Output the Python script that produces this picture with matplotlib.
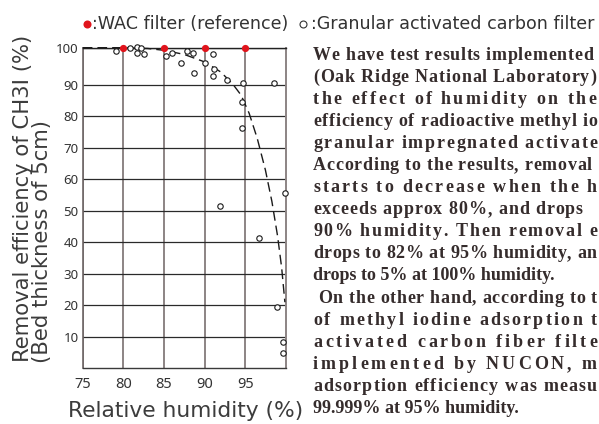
import numpy as np
import matplotlib
matplotlib.use("Agg")
import matplotlib.pyplot as plt
from matplotlib.lines import Line2D
from matplotlib.font_manager import FontProperties, findfont
from matplotlib.ft2font import FT2Font

# ---------------- data ----------------
wac_humidity = [80, 85, 90, 95]
wac_efficiency = [100, 100, 100, 100]

gac_humidity = [79.1, 80.8, 81.7, 82.2, 81.7, 82.5, 85.3, 86.0, 87.1, 87.8,
                88.6, 88.7, 90.0, 91.0, 91.2, 91.0, 92.8, 94.7, 98.5, 94.6,
                94.6, 91.9, 99.9, 96.7, 98.9, 99.7, 99.7]
gac_efficiency = [99.1, 99.8, 100.2, 100.0, 98.5, 98.3, 97.7, 98.7, 96.0, 99.0,
                  98.7, 93.2, 95.8, 98.3, 94.4, 92.5, 91.3, 90.6, 90.6, 84.7,
                  76.3, 51.7, 55.8, 41.5, 19.6, 8.4, 4.8]

trend_humidity = [75, 80, 83, 85, 87.5, 90, 92, 93.5, 94.5, 95.5, 96.5, 97.5,
                  98.3, 99, 99.5, 99.9]
trend_efficiency = [100, 100, 99.8, 99.3, 98.2, 96.2, 93.5, 90.2, 86.8, 81, 73,
                    63, 53, 42, 32, 21]

x_ticks = [75, 80, 85, 90, 95]
y_ticks = [10, 20, 30, 40, 50, 60, 70, 80, 90, 100]

legend_wac = ":WAC filter (reference)"
legend_gac = ":Granular activated carbon filter"
ylabel_1 = "Removal efficiency of CH3I (%)"
ylabel_2 = "(Bed thickness of 5cm)"
xlabel = "Relative humidity (%)"

body_lines = [
    "We have test results implemented",
    "(Oak Ridge National Laboratory)",
    "the effect of humidity on the",
    "efficiency of radioactive methyl io",
    "granular impregnated activate",
    "According to the results, removal",
    "starts to decrease when the h",
    "exceeds approx 80%, and drops",
    "90% humidity. Then removal e",
    "drops to 82% at 95% humidity, an",
    "drops to 5% at 100% humidity.",
    " On the other hand, according to t",
    "of methyl iodine adsorption t",
    "activated carbon fiber filte",
    "implemented by NUCON, m",
    "adsorption efficiency was measu",
    "99.999% at 95% humidity.",
]
# right edge (px) of each justified line; None = natural width
body_line_ends = [593, 596, 596, 597, 597, 592, 597, 583, 597, 597, None,
                  597, 597, 597, 597, 597, None]

# ---------------- figure ----------------
W, H = 599, 424
fig = plt.figure(figsize=(W / 100, H / 100), dpi=100)

def fx(px):
    return px / W

def fy(py):
    return 1 - py / H

ax_l, ax_r, ax_t, ax_b = 82.7, 285.7, 47.7, 368.3
ax = fig.add_axes([fx(ax_l), fy(ax_b), (ax_r - ax_l) / W, (ax_b - ax_t) / H])

K = 1.185

def fwd(y):
    y = np.asarray(y, dtype=float)
    return np.where(y <= 90, y, 90 + (y - 90) * K)

def inv(v):
    v = np.asarray(v, dtype=float)
    return np.where(v <= 90, v, 90 + (v - 90) / K)

ax.set_yscale("function", functions=(fwd, inv))
ax.set_xlim(75, 100)
ax.set_ylim(0, 100)

ax.set_xticks(x_ticks)
ax.set_yticks(y_ticks)
ax.tick_params(axis="both", which="both", length=0)
ax.tick_params(axis="y", pad=3, labelsize=9.5, labelcolor="#333333")
ax.tick_params(axis="x", pad=6, labelsize=10.5, labelcolor="#333333")
for lab in ax.get_xticklabels() + ax.get_yticklabels():
    lab.set_family("Noto Sans")

ax.xaxis.grid(True, which="major", color="#8c8484", lw=1.4)
ax.yaxis.grid(True, which="major", color="#2a2a2a", lw=0.9)
ax.set_axisbelow(True)

for side, col, lw in [("left", "#6e6666", 1.2), ("bottom", "#3a3a3a", 1.0),
                      ("top", "#222222", 1.0), ("right", "#8c8484", 1.4)]:
    ax.spines[side].set_color(col)
    ax.spines[side].set_linewidth(lw)

ax.plot(trend_humidity, trend_efficiency, color="#1a1a1a", lw=1.0,
        dashes=(7, 3.6), zorder=3, clip_on=False)
ax.plot(gac_humidity, gac_efficiency, linestyle="none", marker="o", ms=3.9,
        mfc="white", mec="#1a1a1a", mew=0.8, zorder=4, clip_on=False)
ax.plot(wac_humidity, wac_efficiency, linestyle="none", marker="o", ms=5.2,
        mfc="#e0141c", mec="#e0141c", mew=0, zorder=5, clip_on=False)

# ---------------- labels ----------------
label_font = dict(family="DejaVu Sans", weight="normal", color="#3c3c3c")
fig.text(fx(29), fy(362), ylabel_1, rotation=90, rotation_mode="anchor",
         ha="left", va="baseline", fontsize=15.2, **label_font)
fig.text(fx(48), fy(363), ylabel_2, rotation=90, rotation_mode="anchor",
         ha="left", va="baseline", fontsize=15.2, **label_font)
fig.text(fx(185.5), fy(417), xlabel, ha="center", va="baseline",
         fontsize=15.7, **label_font)

# legend
legend_font = dict(family="DejaVu Sans", weight="normal", color="#333333")
fig.add_artist(Line2D([fx(87)], [fy(24)], transform=fig.transFigure,
                      marker="o", ms=5.8, mfc="#e0141c", mec="#e0141c", mew=0,
                      linestyle="none"))
fig.text(fx(92), fy(28.7), legend_wac, ha="left", va="baseline",
         fontsize=12.6, **legend_font)
fig.add_artist(Line2D([fx(303)], [fy(24)], transform=fig.transFigure,
                      marker="o", ms=5.0, mfc="white", mec="#333333", mew=0.8,
                      linestyle="none"))
fig.text(fx(311), fy(28.7), legend_gac, ha="left", va="baseline",
         fontsize=12.6, **legend_font)

# ---------------- body text (justified by even letter spacing) ----------------
body_size = 13
body_fp = FontProperties(family="Liberation Serif", weight="bold", size=body_size)
ft = FT2Font(findfont(body_fp))
ft.set_size(body_size, 100)

def advance(c):
    g = ft.load_char(ord(c))
    return g.linearHoriAdvance / 65536

x0 = 313
base0 = 59.5
step = 22.1
for i, (line, end) in enumerate(zip(body_lines, body_line_ends)):
    yb = base0 + i * step
    advs = [advance(c) for c in line]
    natural = sum(advs)
    if end is None or len(line) < 2:
        fig.text(fx(x0), fy(yb), line, ha="left", va="baseline",
                 fontproperties=body_fp, color="#352c2c")
        continue
    track = (end - x0 - natural) / (len(line) - 1)
    xc = x0
    for c, a in zip(line, advs):
        if c != " ":
            fig.text(fx(xc), fy(yb), c, ha="left", va="baseline",
                     fontproperties=body_fp, color="#352c2c")
        xc += a + track

fig.savefig("out.png", dpi=100)
